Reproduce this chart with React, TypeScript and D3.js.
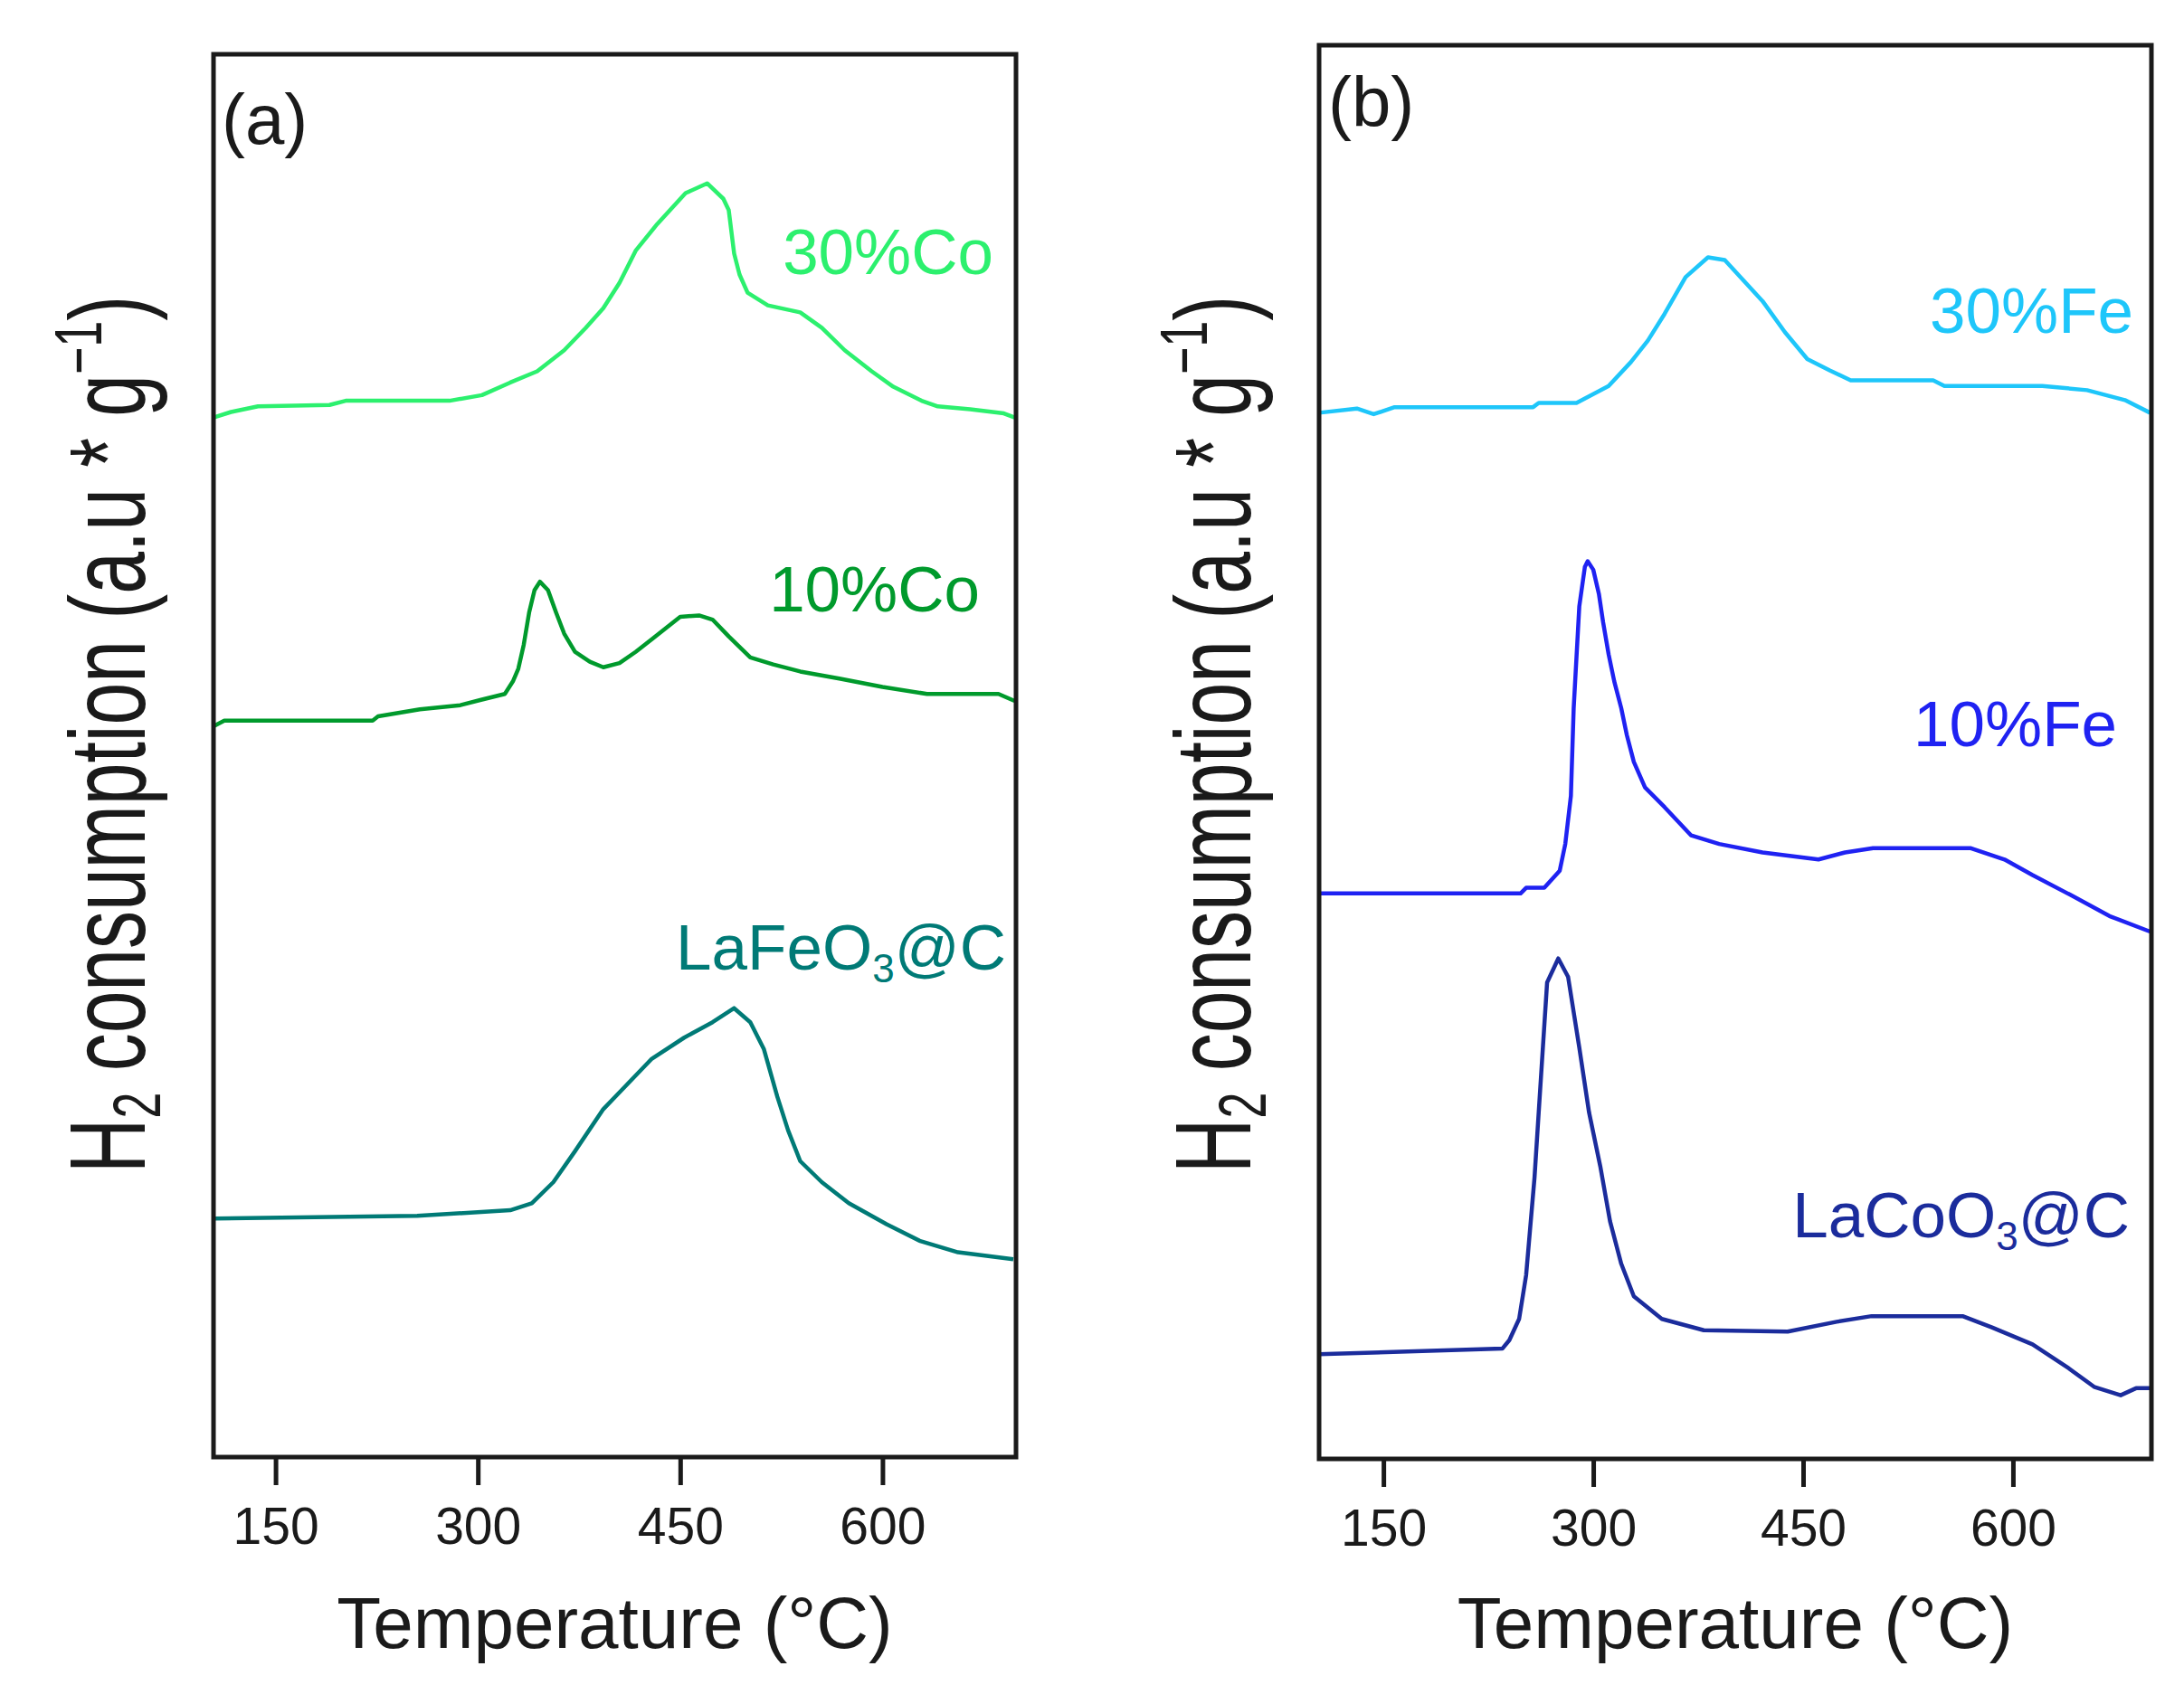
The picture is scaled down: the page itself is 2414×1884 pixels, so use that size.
import React, { useEffect, useRef } from 'react';
import * as d3 from 'd3';

const WIDTH = 2414;
const HEIGHT = 1884;
const FONT = '"Liberation Sans", Arial, sans-serif';

const tempDomain: [number, number] = [104, 699];
const tickValues = [150, 300, 450, 600];

// panel (a): 30%Co
const co30Temp = [104, 117, 137, 190, 202, 279, 303, 324, 344, 364, 380, 393, 405, 417, 433, 454, 470, 482, 486, 490, 494, 500, 515, 539, 555, 572, 592, 608, 629, 641, 665, 690, 698];
const co30Val = [74.1, 74.5, 74.9, 75.0, 75.3, 75.3, 75.7, 76.6, 77.4, 78.9, 80.5, 81.9, 83.7, 86.0, 87.9, 90.1, 90.8, 89.7, 88.9, 85.8, 84.3, 83.0, 82.1, 81.6, 80.5, 78.9, 77.4, 76.3, 75.3, 74.9, 74.7, 74.4, 74.1];

// panel (a): 10%Co
const co10Temp = [104, 112, 222, 226, 257, 287, 303, 320, 326, 330, 334, 338, 342, 346, 352, 358, 364, 372, 383, 393, 405, 417, 429, 450, 464, 474, 486, 502, 519, 539, 568, 600, 633, 686, 698];
const co10Val = [52.1, 52.5, 52.5, 52.8, 53.3, 53.6, 54.0, 54.4, 55.3, 56.2, 57.9, 60.2, 61.8, 62.4, 61.8, 60.2, 58.7, 57.4, 56.7, 56.3, 56.6, 57.4, 58.3, 59.9, 60.0, 59.7, 58.5, 57.0, 56.5, 56.0, 55.5, 54.9, 54.4, 54.4, 53.9];

// panel (a): LaFeO3@C
const feoTemp = [104, 255, 324, 340, 356, 372, 393, 405, 429, 453, 474, 490, 502, 512, 522, 530, 539, 555, 575, 603, 628, 656, 697];
const feoVal = [17.0, 17.2, 17.6, 18.1, 19.6, 21.8, 24.8, 26.0, 28.4, 29.9, 31.0, 32.0, 31.0, 29.1, 25.7, 23.3, 21.1, 19.6, 18.1, 16.6, 15.4, 14.6, 14.1];

// panel (b): 30%Fe
const fe30Temp = [104, 131, 143, 158, 257, 261, 288, 311, 327, 339, 351, 366, 382, 394, 421, 437, 453, 469, 484, 543, 551, 621, 653, 680, 698];
const fe30Val = [74.0, 74.3, 73.9, 74.4, 74.4, 74.7, 74.7, 75.9, 77.6, 79.1, 81.0, 83.6, 85.0, 84.8, 81.9, 79.7, 77.8, 77.0, 76.3, 76.3, 75.9, 75.9, 75.6, 74.9, 74.0];

// panel (b): 10%Fe
const fe10Temp = [104, 248, 252, 265, 276, 280, 284, 286, 290, 294, 296, 300, 304, 307, 311, 315, 320, 324, 329, 337, 351, 370, 390, 421, 461, 480, 500, 570, 594, 614, 641, 669, 698];
const fe10Val = [40.0, 40.0, 40.4, 40.4, 41.6, 43.5, 46.9, 53.1, 60.3, 63.1, 63.5, 62.9, 61.2, 59.2, 56.9, 55.0, 53.1, 51.2, 49.3, 47.5, 46.1, 44.1, 43.5, 42.9, 42.4, 42.9, 43.2, 43.2, 42.4, 41.3, 39.9, 38.4, 37.3];

// panel (b): LaCoO3@C
const lcoTemp = [104, 235, 240, 247, 252, 258, 263, 267, 275, 282, 290, 297, 305, 312, 320, 329, 349, 379, 439, 474, 499, 564, 585, 614, 640, 658, 677, 688, 698];
const lcoVal = [7.4, 7.8, 8.4, 9.9, 13.0, 19.9, 27.6, 33.7, 35.4, 34.1, 29.1, 24.5, 20.7, 16.8, 13.8, 11.5, 9.9, 9.1, 9.0, 9.7, 10.1, 10.1, 9.3, 8.1, 6.4, 5.1, 4.5, 5.0, 5.0];

interface Label {
  main: string;
  sub?: string;
  tail?: string;
}

interface Series {
  temp: number[];
  val: number[];
  color: string;
  label: Label;
  labelX: number;
  labelY: number;
}

interface Panel {
  tag: string;
  left: number;
  right: number;
  top: number;
  bottom: number;
  tagX: number;
  tagY: number;
  series: Series[];
}

const panels: Panel[] = [
  {
    tag: '(a)',
    left: 236,
    right: 1123,
    top: 60,
    bottom: 1611,
    tagX: 245,
    tagY: 159,
    series: [
      { temp: co30Temp, val: co30Val, color: '#2cf06e', label: { main: '30%Co' }, labelX: 1098, labelY: 303 },
      { temp: co10Temp, val: co10Val, color: '#009a2c', label: { main: '10%Co' }, labelX: 1083, labelY: 676 },
      { temp: feoTemp, val: feoVal, color: '#007a76', label: { main: 'LaFeO', sub: '3', tail: '@C' }, labelX: 1112, labelY: 1072 },
    ],
  },
  {
    tag: '(b)',
    left: 1458,
    right: 2378,
    top: 50,
    bottom: 1613,
    tagX: 1468,
    tagY: 140,
    series: [
      { temp: fe30Temp, val: fe30Val, color: '#1ec6fa', label: { main: '30%Fe' }, labelX: 2358, labelY: 368 },
      { temp: fe10Temp, val: fe10Val, color: '#1f22f2', label: { main: '10%Fe' }, labelX: 2340, labelY: 825 },
      { temp: lcoTemp, val: lcoVal, color: '#1b2c9c', label: { main: 'LaCoO', sub: '3', tail: '@C' }, labelX: 2354, labelY: 1368 },
    ],
  },
];

const App: React.FC = () => {
  const svgRef = useRef<SVGSVGElement>(null);

  useEffect(() => {
    const svg = d3.select(svgRef.current);
    svg.selectAll('*').remove();

    svg.append('rect').attr('width', WIDTH).attr('height', HEIGHT).attr('fill', '#fff');

    panels.forEach(p => {
      const x = d3.scaleLinear().domain(tempDomain).range([p.left, p.right]);
      const y = d3.scaleLinear().domain([0, 100]).range([p.bottom, p.top]);
      const g = svg.append('g');

      // curves
      const line = d3
        .line<[number, number]>()
        .x(d => x(d[0]))
        .y(d => y(d[1]));

      p.series.forEach(s => {
        g.append('path')
          .datum(d3.zip(s.temp, s.val) as [number, number][])
          .attr('fill', 'none')
          .attr('stroke', s.color)
          .attr('stroke-width', 4.5)
          .attr('stroke-linejoin', 'round')
          .attr('d', line);

        const t = g
          .append('text')
          .attr('x', s.labelX)
          .attr('y', s.labelY)
          .attr('text-anchor', 'end')
          .attr('font-family', FONT)
          .attr('font-size', 71)
          .attr('fill', s.color);
        t.append('tspan').text(s.label.main);
        if (s.label.sub) {
          t.append('tspan').attr('dy', 14).attr('font-size', 44).text(s.label.sub);
          t.append('tspan').attr('dy', -14).text(s.label.tail || '');
        }
      });

      // frame
      g.append('rect')
        .attr('x', p.left)
        .attr('y', p.top)
        .attr('width', p.right - p.left)
        .attr('height', p.bottom - p.top)
        .attr('fill', 'none')
        .attr('stroke', '#1a1a1a')
        .attr('stroke-width', 5);

      // x axis
      const axis = g
        .append('g')
        .attr('transform', `translate(0,${p.bottom})`)
        .call(
          d3
            .axisBottom(x)
            .tickValues(tickValues)
            .tickSize(31)
            .tickPadding(25)
            .tickFormat(d3.format('d'))
        );
      axis.select('.domain').remove();
      axis.selectAll('.tick line').attr('stroke', '#1a1a1a').attr('stroke-width', 5);
      axis
        .selectAll('.tick text')
        .attr('font-family', FONT)
        .attr('font-size', 57)
        .attr('fill', '#1a1a1a');

      // x title
      g.append('text')
        .attr('x', (p.left + p.right) / 2)
        .attr('y', 1822)
        .attr('text-anchor', 'middle')
        .attr('font-family', FONT)
        .attr('font-size', 80)
        .attr('fill', '#1a1a1a')
        .text('Temperature (°C)');

      // y title
      const yt = g
        .append('text')
        .attr('transform', `translate(${p.left - 76},812) rotate(-90) scale(1,1.42)`)
        .attr('text-anchor', 'middle')
        .attr('font-family', FONT)
        .attr('font-size', 84)
        .attr('fill', '#1a1a1a');
      yt.append('tspan').text('H');
      yt.append('tspan').attr('dy', 12).attr('font-size', 52).text('2');
      yt.append('tspan').attr('dy', -12).text(' consumption (a.u * g');
      yt.append('tspan').attr('dy', -34).attr('font-size', 52).text('\u22121');
      yt.append('tspan').attr('dy', 34).text(')');

      // panel tag
      g.append('text')
        .attr('x', p.tagX)
        .attr('y', p.tagY)
        .attr('font-family', FONT)
        .attr('font-size', 78)
        .attr('fill', '#1a1a1a')
        .text(p.tag);
    });
  }, []);

  return (
    <svg
      ref={svgRef}
      width={WIDTH}
      height={HEIGHT}
      style={{ position: 'absolute', left: 0, top: 0 }}
    />
  );
};

export default App;
